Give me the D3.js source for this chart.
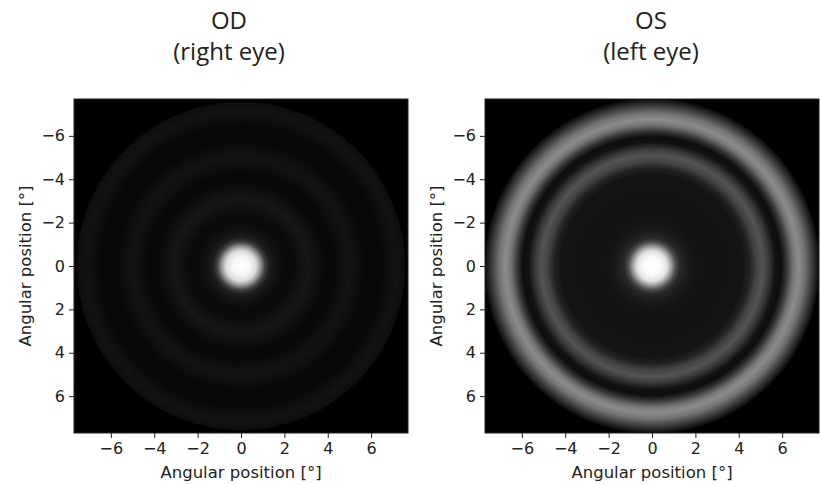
<!DOCTYPE html>
<html>
<head>
<meta charset="utf-8">
<script src="https://cdn.jsdelivr.net/npm/d3@7"></script>
<style>
  html, body { margin: 0; padding: 0; background: #fff; }
  svg { display: block; }
  .tick text { font-family: "DejaVu Sans", sans-serif; font-size: 16px; fill: #222; }
  .axis-label { font-family: "DejaVu Sans", sans-serif; font-size: 16.5px; fill: #222; }
  .title { font-family: "Open Sans", "Noto Sans", sans-serif; font-size: 24px; fill: #222; }
</style>
</head>
<body>
<svg id="chart" width="820" height="484"></svg>
<script>
// Angular extent of each retinal image, in degrees
const extent = [-7.7, 7.7];
const tickValues = [-6, -4, -2, 0, 2, 4, 6];
const axisLabel = "Angular position [°]";

// Panel titles
const titlesOD = ["OD", "(right eye)"];
const titlesOS = ["OS", "(left eye)"];

// Radial intensity profiles (radius in degrees, normalised intensity 0..1)
const radiusOD    = [0,    0.4,  0.7,  0.9,  1.1,  1.3,  1.6,  2.0,  2.4,  2.8,  3.1,  3.5,  3.9,  4.3,  4.7,  5.0,  5.3,  5.7,  6.1,  6.5,  6.9,  7.2,  7.5,  7.55, 7.6];
const intensityOD = [1.0,  0.97, 0.86, 0.58, 0.26, 0.12, 0.07, 0.045,0.045,0.07, 0.085,0.06, 0.035,0.035,0.06, 0.07, 0.06, 0.035,0.03, 0.035,0.06, 0.07, 0.055,0.045,0.0];

const radiusOS    = [0,    0.4,  0.7,  0.9,  1.1,  1.3,  1.6,  2.0,  2.6,  3.2,  3.8,  4.2,  4.5,  4.8,  5.1,  5.4,  5.7,  5.95, 6.2,  6.5,  6.75, 7.05, 7.35, 7.65, 7.75];
const intensityOS = [1.0,  0.98, 0.88, 0.6,  0.3,  0.16, 0.11, 0.08, 0.07, 0.07, 0.08, 0.08, 0.13, 0.26, 0.33, 0.22, 0.07, 0.05, 0.2,  0.45, 0.55, 0.45, 0.26, 0.08, 0.0];

const svg = d3.select("#chart");
const defs = svg.append("defs");

const panels = [
  { id: "od", left: 74,  titles: titlesOD, titleX: 229, radius: radiusOD, intensity: intensityOD },
  { id: "os", left: 485, titles: titlesOS, titleX: 651, radius: radiusOS, intensity: intensityOS }
];

const size = 334;
const plotTop = 99;
const gray = v => { const c = Math.round(255 * Math.max(0, Math.min(1, v))); return d3.rgb(c, c, c).formatHex(); };
const fmt = d => d3.format("d")(d);

panels.forEach(p => {
  const x = d3.scaleLinear().domain(extent).range([p.left, p.left + size]);
  const y = d3.scaleLinear().domain(extent).range([plotTop, plotTop + size]);
  const rMax = d3.max(p.radius);
  const rPix = x(rMax) - x(0);

  // radial gradient built from the profile
  const grad = defs.append("radialGradient")
    .attr("id", "psf-" + p.id)
    .attr("gradientUnits", "userSpaceOnUse")
    .attr("cx", x(0)).attr("cy", y(0)).attr("r", rPix);
  grad.selectAll("stop")
    .data(p.radius.map((r, i) => ({ r, v: p.intensity[i] })))
    .join("stop")
    .attr("offset", d => d.r / rMax)
    .attr("stop-color", d => gray(d.v));

  defs.append("clipPath").attr("id", "clip-" + p.id)
    .append("rect")
    .attr("x", x(extent[0])).attr("y", y(extent[0]))
    .attr("width", x(extent[1]) - x(extent[0]))
    .attr("height", y(extent[1]) - y(extent[0]));

  const g = svg.append("g");
  g.append("rect")
    .attr("x", x(extent[0])).attr("y", y(extent[0]))
    .attr("width", x(extent[1]) - x(extent[0]))
    .attr("height", y(extent[1]) - y(extent[0]))
    .attr("fill", "#000");
  g.append("circle")
    .attr("clip-path", "url(#clip-" + p.id + ")")
    .attr("cx", x(0)).attr("cy", y(0)).attr("r", rPix)
    .attr("fill", "url(#psf-" + p.id + ")");

  // frame
  g.append("rect")
    .attr("x", x(extent[0])).attr("y", y(extent[0]))
    .attr("width", x(extent[1]) - x(extent[0]))
    .attr("height", y(extent[1]) - y(extent[0]))
    .attr("fill", "none").attr("stroke", "#222").attr("stroke-width", 1);

  const xAxis = d3.axisBottom(x).tickValues(tickValues).tickFormat(fmt).tickSize(5).tickPadding(4);
  const yAxis = d3.axisLeft(y).tickValues(tickValues).tickFormat(fmt).tickSize(5).tickPadding(4);

  const gx = svg.append("g").attr("transform", `translate(0,${plotTop + size})`).call(xAxis);
  const gy = svg.append("g").attr("transform", `translate(${p.left},0)`).call(yAxis);
  [gx, gy].forEach(a => {
    a.select(".domain").remove();
    a.selectAll(".tick line").attr("stroke", "#222");
  });
  gx.selectAll(".tick text").attr("dy", "0.75em");

  svg.append("text").attr("class", "axis-label")
    .attr("x", x(0)).attr("y", 478)
    .attr("text-anchor", "middle")
    .text(axisLabel);

  svg.append("text").attr("class", "axis-label")
    .attr("transform", `translate(${p.left - 49},${y(0)}) rotate(-90)`)
    .attr("text-anchor", "middle")
    .attr("dy", "0.35em")
    .text(axisLabel);

  svg.append("text").attr("class", "title")
    .attr("x", p.titleX).attr("y", 29)
    .attr("text-anchor", "middle")
    .text(p.titles[0]);
  svg.append("text").attr("class", "title")
    .attr("x", p.titleX).attr("y", 60)
    .attr("text-anchor", "middle")
    .text(p.titles[1]);
});
</script>
</body>
</html>
